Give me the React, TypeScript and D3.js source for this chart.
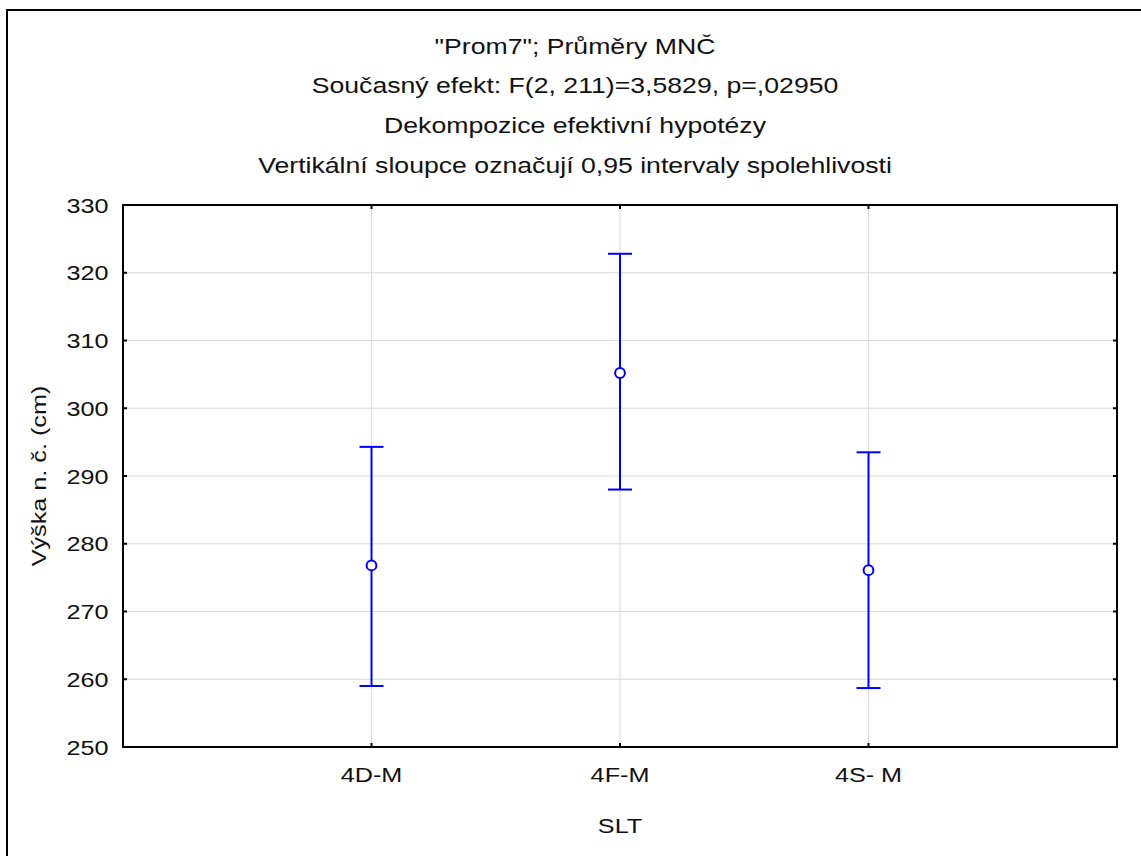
import React from "react";
import * as d3 from "d3";

const categories = ["4D-M", "4F-M", "4S- M"];
const means = [276.8, 305.2, 276.1];
const upper = [294.3, 322.8, 293.5];
const lower = [259.0, 288.0, 258.7];
const yTicks = [250, 260, 270, 280, 290, 300, 310, 320, 330];
const titleLines = [
  '"Prom7"; Průměry MNČ',
  "Současný efekt: F(2, 211)=3,5829, p=,02950",
  "Dekompozice efektivní hypotézy",
  "Vertikální sloupce označují 0,95 intervaly spolehlivosti",
];
const xLabel = "SLT";
const yLabel = "Výška n. č. (cm)";

const W = 1141;
const H = 856;
const L = 123, R = 1117, T = 205, B = 747;
const FONT = "'Liberation Sans', Arial, sans-serif";
const SX = 1.2;
const FS = 21;

function Txt({ x, y, anchor = "middle", rot = 0, children, size = FS }: any) {
  return (
    <text
      transform={`translate(${x},${y}) rotate(${rot}) scale(${SX},1)`}
      textAnchor={anchor}
      fontFamily={FONT}
      fontSize={size}
      fill="#111"
    >
      {children}
    </text>
  );
}

export default function App() {
  const y = d3.scaleLinear().domain([250, 330]).range([B, T]);
  const x = d3.scaleLinear().domain([0, categories.length + 1]).range([L, R]);
  const blue = "#0000ff";
  const grid = "#d9d9d9";
  const cap = 12;
  return (
    <svg
      width={W}
      height={H}
      style={{ position: "absolute", left: 0, top: 0, background: "#fff" }}
    >
      <rect x={0} y={0} width={W} height={H} fill="#fff" />
      <rect x={7} y={10} width={W + 20} height={H + 20} fill="none" stroke="#000" strokeWidth={2} />
      {titleLines.map((t, i) => (
        <Txt key={i} x={575} y={53.5 + i * 39.7} size={22.2}>
          {t}
        </Txt>
      ))}
      {/* grid */}
      {yTicks.map((v) => (
        <line key={"gy" + v} x1={L} x2={R} y1={y(v)} y2={y(v)} stroke={grid} strokeWidth={1} />
      ))}
      {categories.map((c, i) => (
        <line key={"gx" + c} x1={x(i + 1)} x2={x(i + 1)} y1={T} y2={B} stroke={grid} strokeWidth={1} />
      ))}
      {/* frame */}
      <rect x={L} y={T} width={R - L} height={B - T} fill="none" stroke="#000" strokeWidth={2} />
      {yTicks.map((v) => (
        <g key={"ty" + v}>
          <line x1={L} x2={L + 4} y1={y(v)} y2={y(v)} stroke="#000" strokeWidth={2} />
          <line x1={R - 4} x2={R} y1={y(v)} y2={y(v)} stroke="#000" strokeWidth={2} />
          <Txt x={108.5} y={y(v) + 7.5} anchor="end">
            {String(v)}
          </Txt>
        </g>
      ))}
      {categories.map((c, i) => (
        <g key={"tx" + c}>
          <line x1={x(i + 1)} x2={x(i + 1)} y1={B} y2={B - 4} stroke="#000" strokeWidth={2} />
          <line x1={x(i + 1)} x2={x(i + 1)} y1={T} y2={T + 4} stroke="#000" strokeWidth={2} />
          <Txt x={x(i + 1)} y={782}>
            {c}
          </Txt>
        </g>
      ))}
      <Txt x={(L + R) / 2} y={833}>
        {xLabel}
      </Txt>
      <Txt x={46} y={(T + B) / 2} rot={-90}>
        {yLabel}
      </Txt>
      {/* error bars */}
      {categories.map((c, i) => {
        const cx = x(i + 1);
        return (
          <g key={"eb" + c} stroke={blue} strokeWidth={2}>
            <line x1={cx} x2={cx} y1={y(lower[i])} y2={y(upper[i])} />
            <line x1={cx - cap} x2={cx + cap} y1={y(upper[i])} y2={y(upper[i])} />
            <line x1={cx - cap} x2={cx + cap} y1={y(lower[i])} y2={y(lower[i])} />
            <circle cx={cx} cy={y(means[i])} r={4.9} fill="#fff" />
          </g>
        );
      })}
    </svg>
  );
}
